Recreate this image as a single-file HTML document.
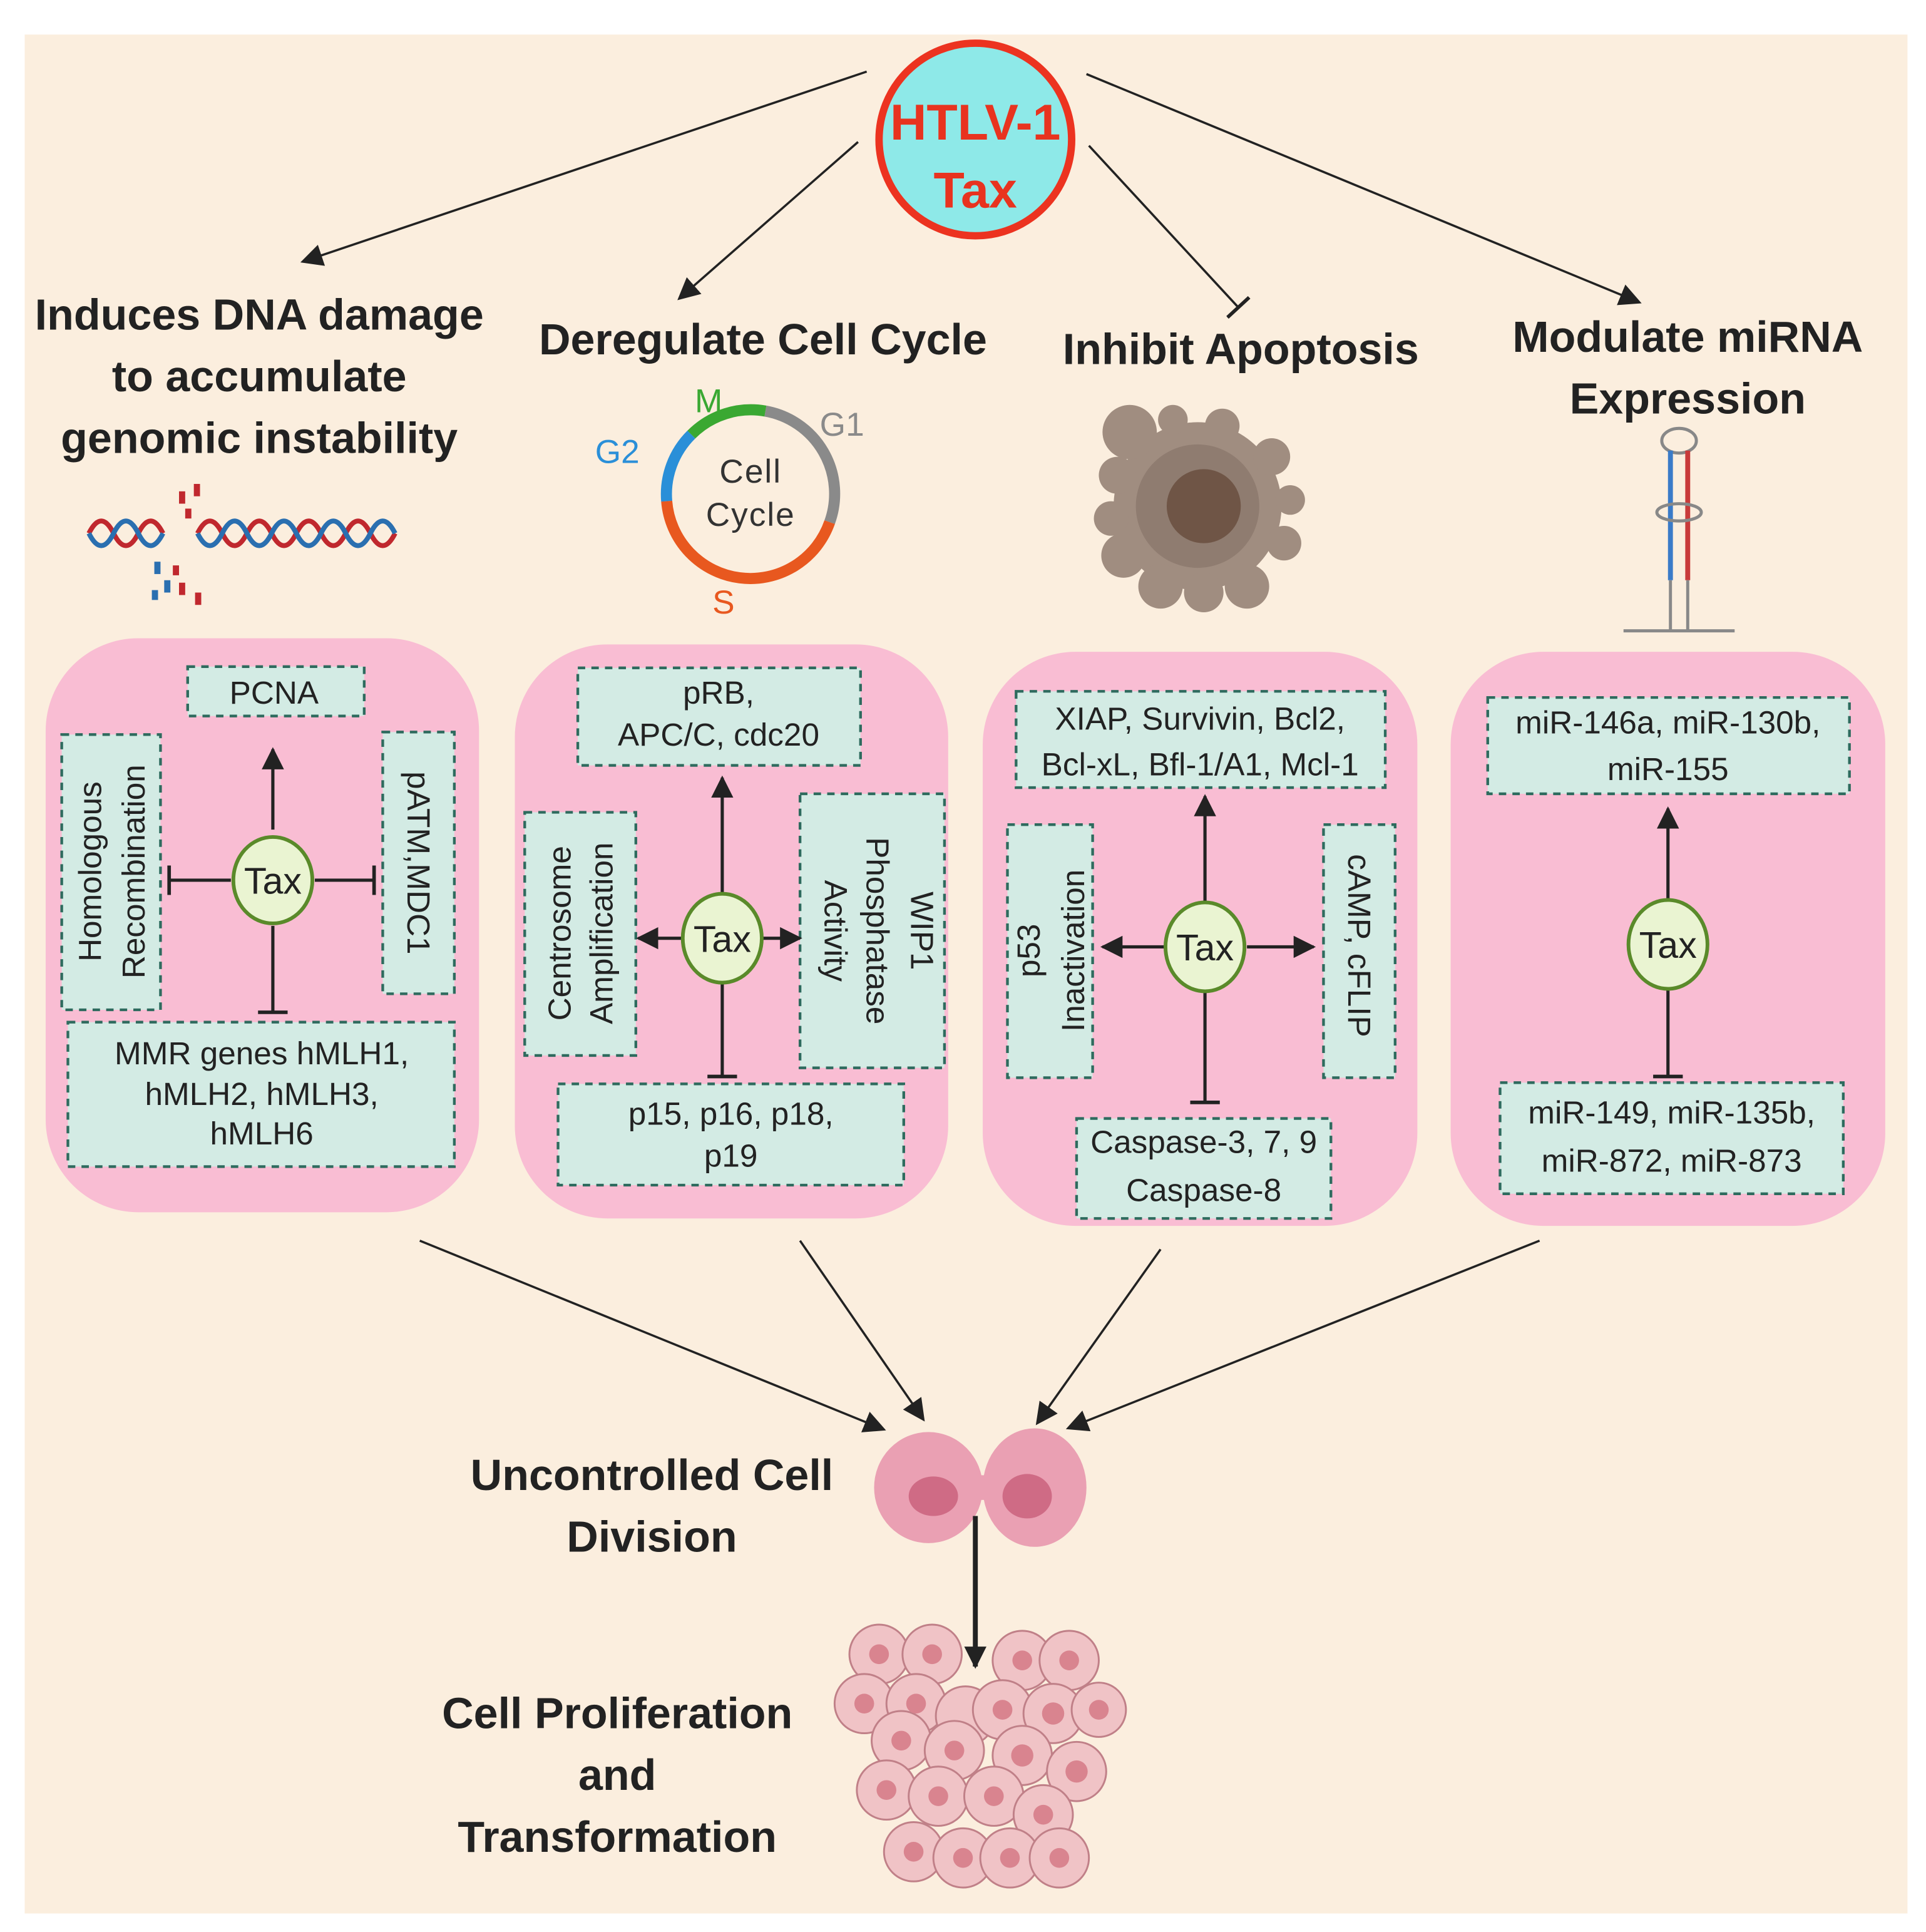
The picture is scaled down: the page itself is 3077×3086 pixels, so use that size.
<!DOCTYPE html>
<html><head><meta charset="utf-8"><style>
html,body{margin:0;padding:0;background:#fff;}
svg{display:block;}
text{font-family:"Liberation Sans",sans-serif;}
.h{font-weight:bold;font-size:35.5px;fill:#222;text-anchor:middle;}
.b{font-size:26px;fill:#222;text-anchor:middle;}
.box{fill:#d3ebe4;stroke:#2e6b5e;stroke-width:2.2;stroke-dasharray:6 5;}
.pnl{fill:#f9bdd3;}
.tax{fill:#eaf4d2;stroke:#5a8a2a;stroke-width:3;}
.tt{font-size:30px;fill:#222;text-anchor:middle;}
.ln{stroke:#222;stroke-width:2.6;fill:none;}
</style></head><body>
<svg width="3077" height="3086" viewBox="0 0 1560 1565" preserveAspectRatio="none" xmlns="http://www.w3.org/2000/svg">
<defs>
<marker id="A" viewBox="0 0 10 10" refX="9" refY="5" markerWidth="18" markerHeight="18" orient="auto" markerUnits="userSpaceOnUse"><path d="M0,0L10,5L0,10z" fill="#222"/></marker>
<marker id="t" viewBox="0 0 10 10" refX="5" refY="5" markerWidth="24" markerHeight="24" orient="auto" markerUnits="userSpaceOnUse"><path d="M5,0L5,10" stroke="#222" stroke-width="1.2"/></marker>
</defs>
<rect x="20" y="28" width="1525" height="1522" fill="#fbeede"/>
<g class="ln" style="stroke-width:1.8">
<line x1="702" y1="58" x2="245" y2="212" marker-end="url(#A)"/>
<line x1="695" y1="115" x2="550" y2="242" marker-end="url(#A)"/>
<line x1="882" y1="118" x2="1003" y2="249" marker-end="url(#t)"/>
<line x1="880" y1="60" x2="1328" y2="245" marker-end="url(#A)"/>
</g>
<circle cx="790" cy="113" r="78" fill="#8ee9e8" stroke="#ec3320" stroke-width="6"/>
<text x="790" y="113" font-size="41" font-weight="bold" fill="#e8331f" text-anchor="middle">HTLV-1</text>
<text x="790" y="168" font-size="41" font-weight="bold" fill="#e8331f" text-anchor="middle">Tax</text>
<text class="h" x="210" y="267">Induces DNA damage</text>
<text class="h" x="210" y="317">to accumulate</text>
<text class="h" x="210" y="367">genomic instability</text>
<text class="h" x="618" y="287">Deregulate Cell Cycle</text>
<text class="h" x="1005" y="295">Inhibit Apoptosis</text>
<text class="h" x="1367" y="285">Modulate miRNA</text>
<text class="h" x="1367" y="335">Expression</text>
<g fill="none" stroke-width="4">
<path d="M72,432 q10,-20 20,0 t20,0 t20,0 M160,432 q10,-20 20,0 t20,0 t20,0 t20,0 t20,0 t20,0 t20,0 t20,0" stroke="#c0282e"/>
<path d="M72,432 q10,20 20,0 t20,0 t20,0 M160,432 q10,20 20,0 t20,0 t20,0 t20,0 t20,0 t20,0 t20,0 t20,0" stroke="#2a6fb0"/>
</g>
<g fill="#c0282e"><rect x="145" y="398" width="5" height="10"/><rect x="157" y="392" width="5" height="10"/><rect x="150" y="412" width="5" height="8"/><rect x="145" y="472" width="5" height="10"/><rect x="158" y="480" width="5" height="10"/><rect x="140" y="458" width="5" height="8"/></g>
<g fill="#2a6fb0"><rect x="125" y="455" width="5" height="10"/><rect x="133" y="470" width="5" height="10"/><rect x="123" y="478" width="5" height="8"/></g>
<g fill="none" stroke-width="9">
<path d="M540,406 A68,68 0 0 1 560,352" stroke="#2a8fd8"/>
<path d="M560,352 A68,68 0 0 1 620,333" stroke="#3aa832"/>
<path d="M620,333 A68,68 0 0 1 672,423" stroke="#8a8a8a"/>
<path d="M672,423 A68,68 0 0 1 540,406" stroke="#e8581f"/>
</g>
<text x="608" y="391" font-size="27" fill="#333" text-anchor="middle" letter-spacing="1">Cell</text>
<text x="608" y="426" font-size="27" fill="#333" text-anchor="middle" letter-spacing="1">Cycle</text>
<text x="574" y="334" font-size="27" fill="#3aa832" text-anchor="middle">M</text>
<text x="682" y="353" font-size="27" fill="#8a8a8a" text-anchor="middle">G1</text>
<text x="500" y="375" font-size="27" fill="#2a8fd8" text-anchor="middle">G2</text>
<text x="586" y="497" font-size="27" fill="#e8581f" text-anchor="middle">S</text>
<g fill="#a08d80">
<circle cx="970" cy="410" r="68"/><circle cx="915" cy="350" r="22"/><circle cx="905" cy="385" r="15"/><circle cx="900" cy="420" r="14"/><circle cx="910" cy="450" r="18"/><circle cx="940" cy="475" r="18"/><circle cx="975" cy="480" r="16"/><circle cx="1010" cy="475" r="18"/><circle cx="1040" cy="440" r="14"/><circle cx="1045" cy="405" r="12"/><circle cx="1030" cy="370" r="15"/><circle cx="990" cy="345" r="14"/><circle cx="950" cy="340" r="12"/>
</g>
<circle cx="970" cy="410" r="50" fill="#8f7c70"/>
<circle cx="975" cy="410" r="30" fill="#6f5546"/>
<g fill="none" stroke-width="2.5">
<ellipse cx="1360" cy="357" rx="14" ry="10" stroke="#888"/>
<line x1="1353" y1="365" x2="1353" y2="470" stroke="#3a7bc8" stroke-width="4"/>
<line x1="1367" y1="365" x2="1367" y2="470" stroke="#c83a3a" stroke-width="4"/>
<ellipse cx="1360" cy="415" rx="18" ry="7" stroke="#888"/>
<line x1="1353" y1="470" x2="1353" y2="510" stroke="#888"/><line x1="1367" y1="470" x2="1367" y2="510" stroke="#888"/>
<line x1="1315" y1="511" x2="1405" y2="511" stroke="#888"/>
</g>
<rect class="pnl" x="37" y="517" width="351" height="465" rx="75"/>
<rect class="pnl" x="417" y="522" width="351" height="465" rx="75"/>
<rect class="pnl" x="796" y="528" width="352" height="465" rx="75"/>
<rect class="pnl" x="1175" y="528" width="352" height="465" rx="75"/>
<rect class="box" x="152" y="540" width="143" height="40"/><text class="b" x="222" y="570">PCNA</text>
<rect class="box" x="50" y="595" width="80" height="223"/>
<text class="b" transform="translate(82,706) rotate(-90)">Homologous</text>
<text class="b" transform="translate(117,706) rotate(-90)">Recombination</text>
<rect class="box" x="310" y="593" width="58" height="212"/>
<text class="b" transform="translate(330,699) rotate(90)">pATM,MDC1</text>
<rect class="box" x="55" y="828" width="313" height="117"/>
<text class="b" x="212" y="862">MMR genes hMLH1,</text><text class="b" x="212" y="895">hMLH2, hMLH3,</text><text class="b" x="212" y="927">hMLH6</text>
<g class="ln"><line x1="221" y1="672" x2="221" y2="607" style="marker-end:url(#A)"/>
<line x1="187" y1="713" x2="137" y2="713" marker-end="url(#t)"/><line x1="255" y1="713" x2="303" y2="713" marker-end="url(#t)"/><line x1="221" y1="750" x2="221" y2="820" marker-end="url(#t)"/></g>
<ellipse class="tax" cx="221" cy="713" rx="32" ry="35"/><text class="tt" x="221" y="724">Tax</text>
<rect class="box" x="468" y="541" width="229" height="79"/><text class="b" x="582" y="570">pRB,</text><text class="b" x="582" y="604">APC/C, cdc20</text>
<rect class="box" x="425" y="658" width="90" height="197"/>
<text class="b" transform="translate(462,756) rotate(-90)">Centrosome</text><text class="b" transform="translate(496,756) rotate(-90)">Amplification</text>
<rect class="box" x="648" y="643" width="117" height="222"/>
<text class="b" transform="translate(668,754) rotate(90)">Activity</text>
<text class="b" transform="translate(702,754) rotate(90)">Phosphatase</text>
<text class="b" transform="translate(738,754) rotate(90)">WIP1</text>
<rect class="box" x="452" y="878" width="280" height="82"/><text class="b" x="592" y="911">p15, p16, p18,</text><text class="b" x="592" y="945">p19</text>
<g class="ln"><line x1="585" y1="724" x2="585" y2="630" style="marker-end:url(#A)"/><line x1="553" y1="760" x2="517" y2="760" style="marker-end:url(#A)"/><line x1="617" y1="760" x2="648" y2="760" style="marker-end:url(#A)"/><line x1="585" y1="797" x2="585" y2="872" marker-end="url(#t)"/></g>
<ellipse class="tax" cx="585" cy="760" rx="32" ry="36"/><text class="tt" x="585" y="771">Tax</text>
<rect class="box" x="823" y="560" width="299" height="78"/><text class="b" x="972" y="591">XIAP, Survivin, Bcl2,</text><text class="b" x="972" y="628">Bcl-xL, Bfl-1/A1, Mcl-1</text>
<rect class="box" x="816" y="668" width="69" height="205"/>
<text class="b" transform="translate(842,770) rotate(-90)">p53</text><text class="b" transform="translate(878,770) rotate(-90)">Inactivation</text>
<rect class="box" x="1072" y="668" width="58" height="205"/>
<text class="b" transform="translate(1092,766) rotate(90)">cAMP, cFLIP</text>
<rect class="box" x="872" y="906" width="206" height="81"/><text class="b" x="975" y="934">Caspase-3, 7, 9</text><text class="b" x="975" y="973">Caspase-8</text>
<g class="ln"><line x1="976" y1="730" x2="976" y2="645" style="marker-end:url(#A)"/><line x1="943" y1="767" x2="893" y2="767" style="marker-end:url(#A)"/><line x1="1010" y1="767" x2="1064" y2="767" style="marker-end:url(#A)"/><line x1="976" y1="804" x2="976" y2="893" marker-end="url(#t)"/></g>
<ellipse class="tax" cx="976" cy="767" rx="32" ry="36"/><text class="tt" x="976" y="778">Tax</text>
<rect class="box" x="1205" y="565" width="293" height="78"/><text class="b" x="1351" y="594">miR-146a, miR-130b,</text><text class="b" x="1351" y="632">miR-155</text>
<rect class="box" x="1215" y="877" width="278" height="90"/><text class="b" x="1354" y="910">miR-149, miR-135b,</text><text class="b" x="1354" y="949">miR-872, miR-873</text>
<g class="ln"><line x1="1351" y1="728" x2="1351" y2="655" style="marker-end:url(#A)"/><line x1="1351" y1="802" x2="1351" y2="872" marker-end="url(#t)"/></g>
<ellipse class="tax" cx="1351" cy="765" rx="32" ry="36"/><text class="tt" x="1351" y="776">Tax</text>
<g class="ln" style="stroke-width:1.8">
<line x1="340" y1="1005" x2="716" y2="1158" marker-end="url(#A)"/>
<line x1="648" y1="1005" x2="748" y2="1150" marker-end="url(#A)"/>
<line x1="940" y1="1012" x2="840" y2="1153" marker-end="url(#A)"/>
<line x1="1247" y1="1005" x2="865" y2="1157" marker-end="url(#A)"/>
</g>
<text class="h" x="528" y="1207">Uncontrolled Cell</text>
<text class="h" x="528" y="1257">Division</text>
<g fill="#eaa0b3">
<ellipse cx="752" cy="1205" rx="44" ry="45"/><ellipse cx="838" cy="1205" rx="42" ry="48"/><rect x="780" y="1195" width="30" height="20"/>
</g>
<ellipse cx="756" cy="1212" rx="20" ry="16" fill="#cf6b85"/><ellipse cx="832" cy="1212" rx="20" ry="18" fill="#cf6b85"/>
<line class="ln" x1="790" y1="1228" x2="790" y2="1350" style="marker-end:url(#A);stroke-width:4"/>
<text class="h" x="500" y="1400">Cell Proliferation</text>
<text class="h" x="500" y="1450">and</text>
<text class="h" x="500" y="1500">Transformation</text>
<g fill="#f0c3c6" stroke="#c08088" stroke-width="1.5">
<circle cx="712" cy="1340" r="24"/><circle cx="755" cy="1340" r="24"/><circle cx="828" cy="1345" r="24"/><circle cx="866" cy="1345" r="24"/>
<circle cx="700" cy="1380" r="24"/><circle cx="742" cy="1380" r="24"/><circle cx="782" cy="1390" r="24"/><circle cx="812" cy="1385" r="24"/><circle cx="853" cy="1388" r="24"/><circle cx="890" cy="1385" r="22"/>
<circle cx="730" cy="1410" r="24"/><circle cx="773" cy="1418" r="24"/><circle cx="828" cy="1422" r="24"/><circle cx="872" cy="1435" r="24"/>
<circle cx="718" cy="1450" r="24"/><circle cx="760" cy="1455" r="24"/><circle cx="805" cy="1455" r="24"/><circle cx="845" cy="1470" r="24"/>
<circle cx="740" cy="1500" r="24"/><circle cx="780" cy="1505" r="24"/><circle cx="818" cy="1505" r="24"/><circle cx="858" cy="1505" r="24"/>
</g>
<g fill="#d9848f">
<circle cx="712" cy="1340" r="8"/><circle cx="755" cy="1340" r="8"/><circle cx="828" cy="1345" r="8"/><circle cx="866" cy="1345" r="8"/><circle cx="700" cy="1380" r="8"/><circle cx="742" cy="1380" r="8"/><circle cx="812" cy="1385" r="8"/><circle cx="853" cy="1388" r="9"/><circle cx="890" cy="1385" r="8"/><circle cx="730" cy="1410" r="8"/><circle cx="773" cy="1418" r="8"/><circle cx="828" cy="1422" r="9"/><circle cx="872" cy="1435" r="9"/><circle cx="718" cy="1450" r="8"/><circle cx="760" cy="1455" r="8"/><circle cx="805" cy="1455" r="8"/><circle cx="845" cy="1470" r="8"/><circle cx="740" cy="1500" r="8"/><circle cx="780" cy="1505" r="8"/><circle cx="818" cy="1505" r="8"/><circle cx="858" cy="1505" r="8"/>
</g>
</svg>
</body></html>
